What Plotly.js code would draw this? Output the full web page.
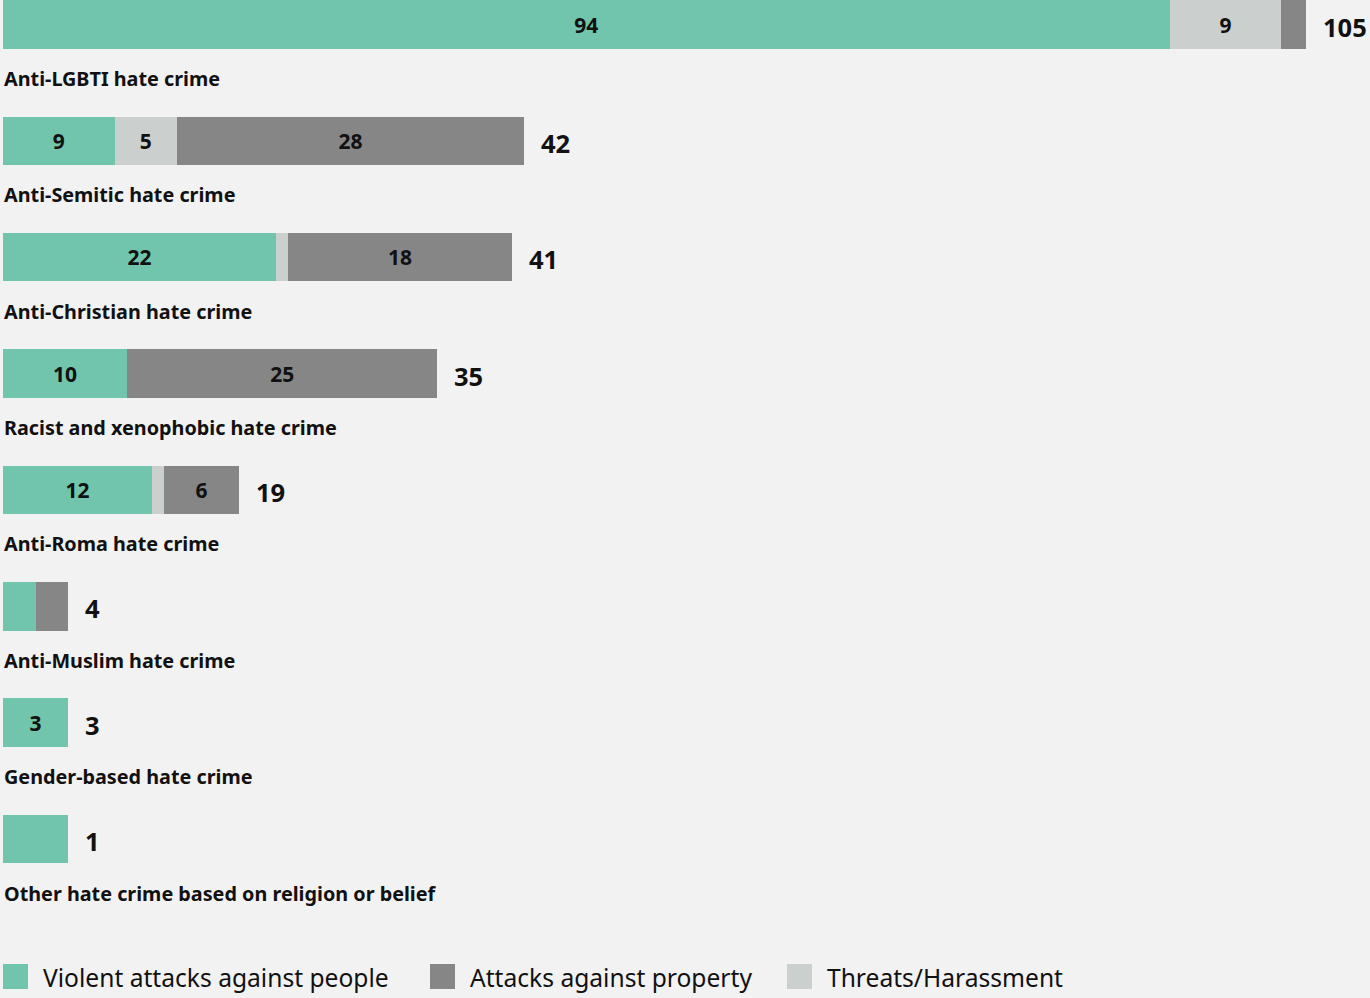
<!DOCTYPE html>
<html>
<head>
<meta charset="utf-8">
<script src="https://cdn.plot.ly/plotly-3.0.1.min.js"></script>
<style>
  html, body { margin: 0; padding: 0; background: #f2f2f2; }
  #chart { width: 1370px; height: 998px; }
</style>
</head>
<body>
<div id="chart"></div>
<script>
// ---- Data ----
const categories = [
  "Anti-LGBTI hate crime",
  "Anti-Semitic hate crime",
  "Anti-Christian hate crime",
  "Racist and xenophobic hate crime",
  "Anti-Roma hate crime",
  "Anti-Muslim hate crime",
  "Gender-based hate crime",
  "Other hate crime based on religion or belief"
];
const violentAttacks = [94, 9, 22, 10, 12, 2, 3, 1];
const threatsHarassment = [9, 5, 1, 0, 1, 0, 0, 0];
const propertyAttacks = [2, 28, 18, 25, 6, 2, 0, 0];
const seriesNames = ["Violent attacks against people", "Attacks against property", "Threats/Harassment"];

// ---- Style ----
const COLORS = { violent: "#70c5ac", property: "#868686", threats: "#cbcfcd" };
const BG = "#f2f2f2";
const TEXT = "#111111";
const FONT = "Noto Sans, Open Sans, sans-serif";
const MIN_BAR_UNITS = 5.24;   // very short bars are drawn at a minimum visible length
const LABEL_MIN = 3;          // segments below this value get no inside label

const totals = categories.map((_, i) => violentAttacks[i] + threatsHarassment[i] + propertyAttacks[i]);
const scale = totals.map(t => Math.max(1, MIN_BAR_UNITS / t));
const displayLen = (arr) => arr.map((v, i) => v * scale[i]);
const insideText = (arr) => arr.map(v => v >= LABEL_MIN ? "<b>" + v + "</b>" : "");

function barTrace(name, values, color) {
  return {
    type: "bar",
    orientation: "h",
    name: name,
    y: categories,
    x: displayLen(values),
    customdata: values,
    hovertemplate: "%{y}<br>" + name + ": %{customdata}<extra></extra>",
    text: insideText(values),
    textposition: "inside",
    insidetextanchor: "middle",
    constraintext: "none",
    textangle: 0,
    textfont: { family: FONT, size: 21, color: TEXT },
    marker: { color: color, line: { width: 0 } },
    width: 0.417,
    showlegend: false,
    cliponaxis: false
  };
}

const traces = [
  barTrace(seriesNames[0], violentAttacks, COLORS.violent),
  barTrace(seriesNames[2], threatsHarassment, COLORS.threats),
  barTrace(seriesNames[1], propertyAttacks, COLORS.property)
];

const W = 1370, H = 998, MB = 68;
const PLOT_H = H - MB;
const PX_PER_UNIT = 12.41;
const xStart = -3 / PX_PER_UNIT;

const annotations = [];
categories.forEach((c, i) => {
  // category label under each bar
  annotations.push({
    x: xStart, y: c, xref: "x", yref: "y",
    xanchor: "left", yanchor: "middle",
    xshift: 2, yshift: -54,
    text: "<b>" + c + "</b>",
    showarrow: false,
    font: { family: FONT, size: 19.8, color: TEXT }
  });
  // total label at bar end
  annotations.push({
    x: totals[i] * scale[i], y: c, xref: "x", yref: "y",
    xanchor: "left", yanchor: "middle",
    xshift: 15, yshift: -2,
    text: "<b>" + totals[i] + "</b>",
    showarrow: false,
    font: { family: FONT, size: 25.5, color: TEXT }
  });
});

// custom legend (large square keys)
const legendItems = [
  { name: seriesNames[0], color: COLORS.violent, px: 3 },
  { name: seriesNames[1], color: COLORS.property, px: 430 },
  { name: seriesNames[2], color: COLORS.threats, px: 787 }
];
const py = (p) => (PLOT_H - p) / PLOT_H;
const shapes = [];
legendItems.forEach(it => {
  shapes.push({
    type: "rect", xref: "paper", yref: "paper",
    x0: it.px / W, x1: (it.px + 25) / W,
    y0: py(989), y1: py(964),
    fillcolor: it.color, line: { width: 0 }
  });
  annotations.push({
    xref: "paper", yref: "paper",
    x: (it.px + 38) / W, y: py(978),
    xanchor: "left", yanchor: "middle",
    text: it.name, showarrow: false,
    font: { family: FONT, size: 24.6, color: TEXT }
  });
});

const layout = {
  width: W, height: H,
  margin: { l: 0, r: 0, t: 0, b: MB, pad: 0 },
  paper_bgcolor: BG, plot_bgcolor: BG,
  barmode: "stack",
  showlegend: false,
  xaxis: {
    range: [xStart, xStart + W / PX_PER_UNIT],
    visible: false, showgrid: false, zeroline: false, fixedrange: true
  },
  yaxis: {
    type: "category",
    categoryorder: "array", categoryarray: categories,
    range: [(PLOT_H - 24.5) / 116.36, -24.5 / 116.36],
    visible: false, showgrid: false, zeroline: false, fixedrange: true
  },
  annotations: annotations,
  shapes: shapes,
  font: { family: FONT, color: TEXT }
};

Plotly.newPlot("chart", traces, layout, { displayModeBar: false, staticPlot: true });
</script>
</body>
</html>
